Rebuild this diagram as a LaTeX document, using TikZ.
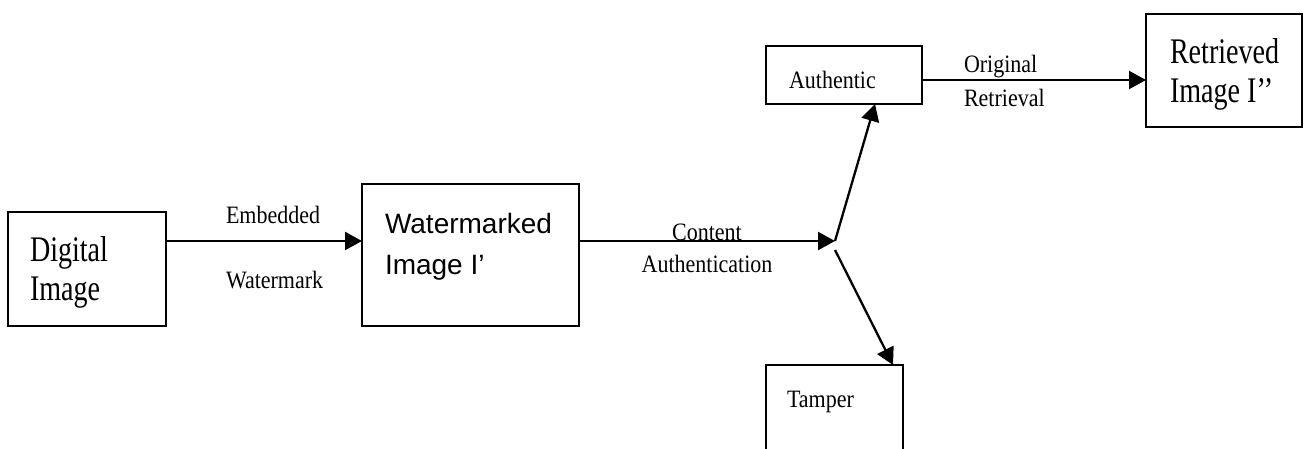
\documentclass[tikz,border=0pt]{standalone}
\usepackage{fontspec}
\setmainfont{Liberation Serif}
\newfontfamily\serifbig[FakeStretch=0.78]{Liberation Serif}
\newfontfamily\serifsmall[FakeStretch=0.88]{Liberation Serif}
\newfontfamily\sansfont{Liberation Sans}
\usetikzlibrary{arrows.meta,calc}

\tikzset{
  box/.style={draw, line width=2.3pt, inner sep=0pt, outer sep=0pt},
  txt/.style={anchor=base west, inner sep=0pt, outer sep=0pt},
  bigtxt/.style={txt, font=\serifbig\fontsize{36}{39}\selectfont},
  smalltxt/.style={txt, font=\serifsmall\fontsize{25}{30}\selectfont},
  sanstxt/.style={txt, font=\sansfont\fontsize{28}{33}\selectfont},
  arr/.style={line width=2.3pt, -{Triangle[length=17pt,width=18pt]}},
}

\begin{document}
\begin{tikzpicture}[x=1pt, y=-1pt]
  \path[use as bounding box] (0,0) rectangle (1304,448);
  \clip (0,0) rectangle (1304,448);

  % boxes
  \node[box, minimum width=158pt, minimum height=114pt] (digital)   at (87,269)    {};
  \node[box, minimum width=217pt, minimum height=142pt] (wm)        at (470.5,255) {};
  \node[box, minimum width=156pt, minimum height=58pt]  (authentic) at (844,75)    {};
  \node[box, minimum width=156pt, minimum height=113pt] (retrieved) at (1224,70.5) {};
  \node[box, minimum width=137pt, minimum height=110pt] (tamper)    at (834.5,420) {};

  % texts inside the boxes
  \node[bigtxt]  (digitalA)   at (30,261)   {Digital};
  \node[bigtxt]  (digitalB)   at (30,300)   {Image};
  \node[sanstxt] (wmA)        at (385,233)  {Watermarked};
  \node[sanstxt] (wmB)        at (385,274)  {Image I’};
  \node[smalltxt](authA)      at (789,88)   {Authentic};
  \node[bigtxt]  (retA)       at (1170,63)  {Retrieved};
  \node[bigtxt]  (retB)       at (1170,102) {Image I’’};
  \node[smalltxt](tampA)      at (787,407)  {Tamper};

  % connector labels
  \node[smalltxt] (embA) at (226,223) {Embedded};
  \node[smalltxt] (embB) at (226,288) {Watermark};
  \node[smalltxt, anchor=base] (caA) at (707,240) {Content};
  \node[smalltxt, anchor=base] (caB) at (707,272) {Authentication};
  \node[smalltxt] (orA) at (964,72)  {Original};
  \node[smalltxt] (orB) at (964,106) {Retrieval};

  % connectors
  \coordinate (split) at (835,241);
  \draw[arr] (digital.east |- split) -- (wm.west |- split);
  \draw[arr] (wm.east |- split) -- (split);
  \draw[arr] (split) -- ([xshift=31pt]authentic.south);
  \draw[arr] ([yshift=-9pt]split) -- ([xshift=58.5pt]tamper.north);
  \draw[arr] ([yshift=-5pt]authentic.east) -- ([yshift=-5pt]authentic.east -| retrieved.west);
\end{tikzpicture}
\end{document}
